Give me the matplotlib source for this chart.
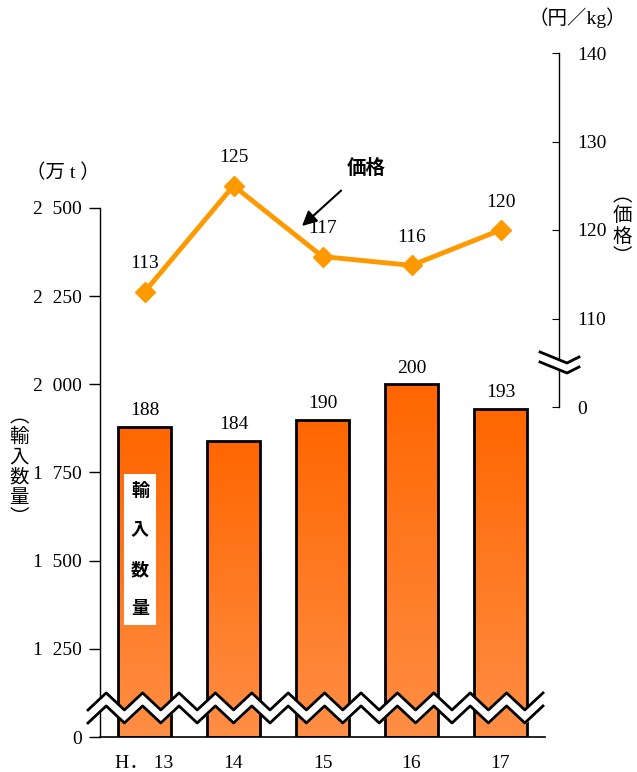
import numpy as np
import matplotlib.pyplot as plt
from matplotlib.colors import LinearSegmentedColormap
from matplotlib.transforms import ScaledTranslation

plt.rcParams['font.family'] = ['Liberation Serif', 'Noto Sans CJK JP']

years = ["H． 13", "14", "15", "16", "17"]
qty = [1880, 1840, 1900, 2000, 1930]          # 輸入数量 (万t)
qty_labels = ["188", "184", "190", "200", "193"]
price = [113, 125, 117, 116, 120]              # 価格 (円/kg)

left_ticks = [1000, 1250, 1500, 1750, 2000, 2250, 2500]
left_ticklabels = ["0", "1\u2002250", "1\u2002500", "1\u2002750", "2\u2002000", "2\u2002250", "2\u2002500"]
right_ticks = [100, 110, 120, 130, 140]
right_ticklabels = ["0", "110", "120", "130", "140"]

W, H = 637, 772
FS = 14
fig = plt.figure(figsize=(W / 100, H / 100), dpi=100)

def box(x0, y0, x1, y1):
    # pixel box (top-left origin) -> figure fraction
    return [x0 / W, 1 - y1 / H, (x1 - x0) / W, (y1 - y0) / H]

# bars
ax = fig.add_axes(box(100, 208, 545, 737))
x = np.arange(len(years))
cmap = LinearSegmentedColormap.from_list("og", ["#ff8e45", "#ff6600"])
grad = np.linspace(0, 1, 256).reshape(-1, 1)
bars = ax.bar(x, [q - 1000 for q in qty], bottom=1000, width=0.59,
              color="none", edgecolor="black", linewidth=2, zorder=3)
for b in bars:
    bx, by = b.get_x(), b.get_y()
    im = ax.imshow(grad, cmap=cmap, aspect="auto", origin="lower",
                   extent=[bx, bx + b.get_width(), by, by + b.get_height()], zorder=2)
    im.set_clip_path(b)
ax.set_xlim(-0.5, 4.5)
ax.set_ylim(1000, 2500)
for xi, q, lab in zip(x, qty, qty_labels):
    ax.text(xi, q + 22, lab, ha="center", va="bottom", fontsize=FS)

ax.set_yticks(left_ticks)
ax.set_yticklabels(left_ticklabels, fontsize=FS)
ax.set_xticks(x)
ax.set_xticklabels(years, fontsize=FS)
first = ax.get_xticklabels()[0]
first.set_transform(first.get_transform() + ScaledTranslation(0.06, 0, fig.dpi_scale_trans))
ax.tick_params(axis="x", length=0, pad=13)
ax.tick_params(axis="y", length=8, width=1, pad=5)
for s in ["top", "right"]:
    ax.spines[s].set_visible(False)
ax.spines["left"].set_linewidth(1)
ax.spines["bottom"].set_linewidth(1.2)
ax.patch.set_alpha(0)

# zigzag break on the bar axis
px_per_unit = 89.0
def px2x(p):
    return (p - 100) / px_per_unit - 0.5
def py2y(p):
    return 1000 + (736 - p) / 88.0 * 250
zx_px = np.arange(88, 548, 18.2)
zx = px2x(zx_px)
up = np.array([py2y(692) if i % 2 == 1 else py2y(709) for i in range(len(zx))])
lo = np.array([py2y(705) if i % 2 == 1 else py2y(722) for i in range(len(zx))])
ax.fill_between(zx, lo, up, color="white", zorder=5, clip_on=False)
ax.plot(zx, up, color="black", lw=2, zorder=6, clip_on=False)
ax.plot(zx, lo, color="black", lw=2, zorder=6, clip_on=False)

ax.text(px2x(140), py2y(549), "輸\n\n入\n\n数\n\n量", ha="center", va="center", fontsize=13,
        fontweight="bold", family="Noto Sans CJK JP", linespacing=1.05,
        bbox=dict(facecolor="white", edgecolor="none", pad=5), zorder=7)

# price line
ax2 = fig.add_axes(box(100, 53, 559, 407))
ax2.set_xlim(-0.5, -0.5 + 459 / px_per_unit)
ax2.set_ylim(100, 140)
ax2.plot(x, price, color="#ff9900", lw=3.5, marker="D", markersize=10, zorder=4)
for xi, p in zip(x, price):
    ax2.text(xi, p + 2.2, str(p), ha="center", va="bottom", fontsize=FS)
ax2.patch.set_alpha(0)
for s in ["top", "left", "bottom"]:
    ax2.spines[s].set_visible(False)
ax2.spines["right"].set_linewidth(1)
ax2.set_xticks([])
ax2.yaxis.tick_right()
ax2.set_yticks(right_ticks)
ax2.set_yticklabels(right_ticklabels, fontsize=FS)
ax2.tick_params(axis="y", direction="in", length=5, pad=13)

# break marks on the right axis
def qx(p):
    return -0.5 + (p - 100) / px_per_unit
def qy(p):
    return 100 + (407 - p) / 88.5 * 10
cx = [qx(540), qx(567), qx(579)]
c1 = [qy(352), qy(363), qy(357)]
c2 = [qy(362), qy(373), qy(367)]
ax2.fill_between(cx, c2, c1, color="white", zorder=5, clip_on=False)
ax2.plot(cx, c1, color="black", lw=2, clip_on=False, zorder=6)
ax2.plot(cx, c2, color="black", lw=2, clip_on=False, zorder=6)

ax2.annotate("価格", xy=(px2x(302), qy(226)), xytext=(px2x(366), qy(168)),
             ha="center", va="center", fontsize=14, fontweight="bold",
             family="Noto Sans CJK JP",
             arrowprops=dict(arrowstyle="-|>", color="black", lw=1.5,
                             mutation_scale=22, shrinkA=11, shrinkB=0))

# units and axis titles
fig.text(63 / W, 1 - 173 / H, "（万 t ）", ha="center", va="center", fontsize=FS)
fig.text(577 / W, 1 - 18 / H, "（円／kg）", ha="center", va="center", fontsize=FS)
fig.text(19 / W, 1 - 467 / H, "︵\n輸\n入\n数\n量\n︶", ha="center", va="center",
         fontsize=14, family="Noto Sans CJK JP", linespacing=0.95)
fig.text(622 / W, 1 - 226 / H, "︵\n価\n格\n︶", ha="center", va="center",
         fontsize=14, family="Noto Sans CJK JP", linespacing=0.95)

fig.savefig("out.png", dpi=100)
